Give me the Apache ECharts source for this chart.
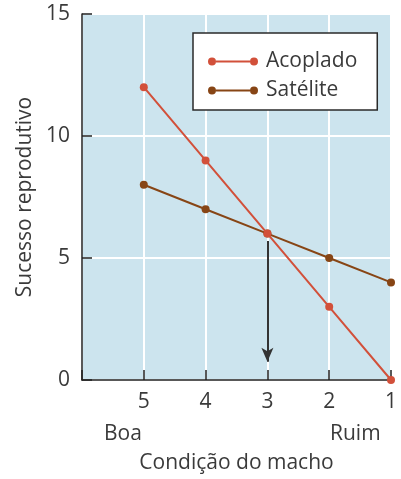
<!DOCTYPE html>
<html><head><meta charset="utf-8">
<script src="https://cdn.jsdelivr.net/npm/echarts@6/dist/echarts.min.js"></script>
<style>html,body{margin:0;padding:0;background:#fff}#c{width:401px;height:479px}</style>
</head><body><div id="c"></div>
<script>
const condicao = [5, 4, 3, 2, 1];
const acoplado = [12, 9, 6, 3, 0];
const satelite = [8, 7, 6, 5, 4];
const seta = [[3, 5.7], [3, 0.75]];
const yTicks = [0, 5, 10, 15];

const FONT = 'Open Sans';
const FS = 21;
const TXT = '#3a3a3a';
const RED = '#d2503a', BROWN = '#874515';
const chart = echarts.init(document.getElementById('c'), null, {renderer: 'canvas'});
const legendPath = 'path://M0,5a4,4 0 1,1 8,0a4,4 0 1,1 -8,0ZM8,4h34v2h-34ZM42,5a4,4 0 1,1 8,0a4,4 0 1,1 -8,0Z';
chart.setOption({
  animation: false,
  textStyle: {fontFamily: FONT},
  grid: {left: 82, right: 10, top: 14, bottom: 97, show: true, backgroundColor: '#cce4ee', borderWidth: 0},
  legend: {
    orient: 'vertical', left: 193, top: 33,
    padding: [18, 20, 9, 15], itemGap: 8,
    backgroundColor: '#fff', borderColor: '#2a2a2a', borderWidth: 1.5, borderRadius: 0,
    itemWidth: 50, itemHeight: 10,
    textStyle: {fontFamily: FONT, fontSize: FS, color: TXT, padding: [0, 0, 0, 3]},
    data: [
      {name: 'Acoplado', icon: legendPath, itemStyle: {color: RED, borderWidth: 0}},
      {name: 'Satélite', icon: legendPath, itemStyle: {color: BROWN, borderWidth: 0}}
    ]
  },
  xAxis: {
    type: 'value', min: 1, max: 6, interval: 1, inverse: true,
    name: 'Condição do macho', nameLocation: 'middle', nameGap: 73,
    nameTextStyle: {fontFamily: FONT, fontSize: FS, color: TXT},
    axisLine: {lineStyle: {color: '#222', width: 1.5}},
    axisTick: {inside: true, length: 10, lineStyle: {color: '#222', width: 1.5}},
    axisLabel: {margin: 12, fontSize: FS, color: TXT, fontFamily: FONT,
      formatter: v => (condicao.indexOf(v) >= 0 ? String(v) : '')},
    splitLine: {show: true, lineStyle: {color: '#fff', width: 2}}
  },
  yAxis: {
    type: 'value', min: 0, max: 15, interval: 5,
    name: 'Sucesso reprodutivo', nameLocation: 'middle', nameGap: 45,
    nameTextStyle: {fontFamily: FONT, fontSize: FS, color: TXT},
    axisLine: {show: true, lineStyle: {color: '#222', width: 1.5}},
    axisTick: {show: true, inside: true, length: 10, lineStyle: {color: '#222', width: 1.5}},
    axisLabel: {margin: 12, fontSize: FS, color: TXT, fontFamily: FONT,
      formatter: v => (yTicks.indexOf(v) >= 0 ? String(v) : '')},
    splitLine: {show: true, lineStyle: {color: '#fff', width: 2}}
  },
  graphic: [
    {type: 'text', left: 104, top: 424, style: {text: 'Boa', fontFamily: FONT, fontSize: FS, fill: TXT}},
    {type: 'text', left: 330, top: 424, style: {text: 'Ruim', fontFamily: FONT, fontSize: FS, fill: TXT}}
  ],
  series: [
    {
      name: 'Acoplado', type: 'line', data: condicao.map((c, i) => [c, acoplado[i]]),
      color: RED, symbol: 'circle', symbolSize: 8,
      lineStyle: {width: 2}, z: 3,
      markLine: {
        silent: true, symbol: ['none', 'arrow'], symbolSize: [9, 14],
        label: {show: false},
        lineStyle: {color: '#333', width: 2, type: 'solid'},
        data: [[{coord: seta[0]}, {coord: seta[1]}]]
      }
    },
    {
      name: 'Satélite', type: 'line', data: condicao.map((c, i) => [c, satelite[i]]),
      color: BROWN, symbol: 'circle', symbolSize: 8,
      lineStyle: {width: 2}, z: 2
    }
  ]
});
</script></body></html>
